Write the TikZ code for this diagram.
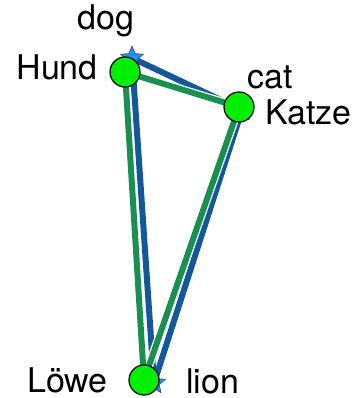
\documentclass[tikz,border=0pt]{standalone}
\usepackage{fontspec}
\setmainfont{TeX Gyre Heros}
\usetikzlibrary{shapes.geometric}

\definecolor{engblue}{HTML}{14589A}
\definecolor{gergreen}{HTML}{1A9050}
\definecolor{dotgreen}{HTML}{00EE00}
\definecolor{starblue}{HTML}{1E90FF}

\tikzset{
  halo/.style={draw=white, line width=8.5pt, line join=round},
  edge/.style={line width=6pt, line join=round},
  engstar/.style={star, star points=5, star point ratio=2.2, minimum size=24pt,
    inner sep=0pt, fill=starblue, draw=black!70, line width=0.6pt},
  gerdot/.style={circle, minimum size=30pt, inner sep=0pt, fill=dotgreen,
    draw=black, line width=1.2pt},
  word/.style={font=\fontsize{34}{38}\selectfont, inner sep=0pt}
}

\begin{document}
\begin{tikzpicture}[x=1pt, y=-1pt]
    \useasboundingbox (0,0) rectangle (358,398);

    % english triangle
    \coordinate (dog) at (132,58);
    \coordinate (cat) at (242,110);
    \coordinate (lion) at (154,383);

    % german triangle
    \coordinate (hund) at (125,72);
    \coordinate (katze) at (239,107);
    \coordinate (loewe) at (144,380);

    \draw[halo] (dog) -- (cat) -- (lion) -- cycle;
    \draw[edge, engblue] (dog) -- (cat) -- (lion) -- cycle;
    \foreach \p in {dog, cat, lion}
      {
        \node[engstar] (\p-mark) at (\p) {};
      }

    \draw[halo] (hund) -- (katze) -- (loewe) -- cycle;
    \draw[edge, gergreen] (hund) -- (katze) -- (loewe) -- cycle;
    \foreach \p in {hund, katze, loewe}
      {
        \node[gerdot] (\p-mark) at (\p) {};
      }

    \node[word] (dog-label) at (106,21) {dog};
    \node[word, anchor=east] (hund-label) at (98,67) {Hund};
    \node[word] (cat-label) at (270,77) {cat};
    \node[word, anchor=west] (katze-label) at (265,112) {Katze};
    \node[word, anchor=east] (loewe-label) at (108,380) {Löwe};
    \node[word, anchor=west] (lion-label) at (186,381) {lion};
  \end{tikzpicture}
\end{document}
